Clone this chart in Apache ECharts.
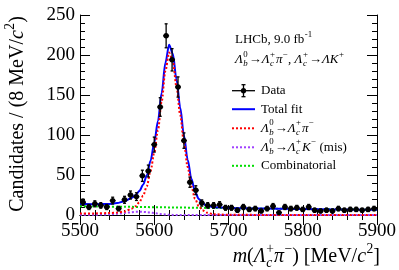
<!DOCTYPE html>
<html><head><meta charset="utf-8">
<script src="https://cdn.jsdelivr.net/npm/echarts@6/dist/echarts.min.js"></script>
<style>html,body{margin:0;padding:0;background:#fff}#c{width:399px;height:270px}</style>
</head><body><div id="c"></div>
<script>
// ---- data ----
const binCenters = [5504,5512,5520,5528,5536,5544,5552,5560,5568,5576,5584,5592,5600,5608,5616,5624,5632,5640,5648,5656,
  5664,5672,5680,5688,5696,5704,5712,5720,5728,5736,5744,5752,5760,5768,5776,5784,5792,5800,5808,5816,
  5824,5832,5840,5848,5856,5864,5872,5880,5888,5896];
const counts = [16,10,14,12,10,18,8,19,25,23,49,55,88,135,224,194,160,93,41,31,
  15,12,12,13,9,9,6,10,7,8,5,8,11,3,10,8,9,7,10,6,
  5,6,5,8,6,7,7,6,7,8];
const curveX = [5500,5520,5540,5550,5560,5570,5575,5580,5585,5590,5595,5600,5605,5610,5615,5620,5625,5630,5635,5640,
  5645,5650,5655,5660,5665,5670,5680,5700,5750,5800,5850,5900];
const totalFit = [14,13.5,13.8,14.9,17.3,21.7,25,30,37.9,49.4,67.8,90.2,117.4,152.7,190.2,212.8,201.7,169.4,134.3,99.3,
  69.2,45.2,29.1,20,15,11.9,9.8,8.9,8.1,7.5,7.0,6.5];
const signalFit = [2,2,2.5,3,4.5,8,11,16,24,36,55,78,106,142,180,203,192,160,125,90,
  60,36,20,11,6,3,1,0.3,0.1,0,0,0];
const misidFit = [0.3,0.4,0.8,1.5,2.5,3.5,3.9,4,3.9,3.5,3,2.4,1.7,1.1,0.6,0.3,0.15,0,0,0,
  0,0,0,0,0,0,0,0,0,0,0,0];
const combFit = [11,10.8,10.5,10.4,10.3,10.2,10.1,10,10,9.9,9.8,9.8,9.7,9.6,9.6,9.5,9.5,9.4,9.3,9.3,
  9.2,9.2,9.1,9.0,9.0,8.9,8.8,8.6,8.0,7.5,7.0,6.5];
const xTicks = {min:5500, max:5900, step:100};
const yTicks = {min:0, max:250, step:50};

// ---- helpers for math-like text ----
const FONT = '"Liberation Serif", "Times New Roman", serif';
const mctx = document.createElement('canvas').getContext('2d');
function fstr(size, it){ return (it ? 'italic ' : '') + size + 'px ' + FONT; }
function tw(s, size, it){ mctx.font = fstr(size, it); return mctx.measureText(s).width; }
function mathText(tokens, size){
  const kids = []; let x = 0; const sm = size * 0.68;
  for (const tk of tokens){
    if (tk.t){
      kids.push({type:'text', x:x, y:0, style:{text:tk.t, font:fstr(size, tk.it), fill:'#000', align:'left', verticalAlign:'middle'}});
      x += tw(tk.t, size, tk.it);
    }
    let w = 0;
    if (tk.sub){
      kids.push({type:'text', x:x+0.5, y:size*0.33, style:{text:tk.sub, font:fstr(sm, tk.subIt), fill:'#000', align:'left', verticalAlign:'middle'}});
      w = Math.max(w, tw(tk.sub, sm, tk.subIt) + 0.5);
    }
    if (tk.sup){
      kids.push({type:'text', x:x+0.5, y:-size*0.40, style:{text:tk.sup, font:fstr(sm, false), fill:'#000', align:'left', verticalAlign:'middle'}});
      w = Math.max(w, tw(tk.sup, sm, false) + 0.5);
    }
    x += w + (tk.pad || 0);
  }
  return {children:kids, width:x};
}
function group(tokens, size, x, y, opts){
  const m = mathText(tokens, size);
  const g = {type:'group', children:m.children};
  opts = opts || {};
  if (opts.rotate){ g.rotation = Math.PI/2; g.x = x; g.y = y + m.width/2; }
  else if (opts.right){ g.x = x - m.width; g.y = y; }
  else { g.x = x; g.y = y; }
  return g;
}

const LS = 13;
const LbPi = [{t:'Λ', it:true, sub:'b', subIt:true, sup:'0', pad:1},{t:'→'},{t:'Λ', it:true, sub:'c', subIt:true, sup:'+', pad:1},{t:'π', it:true, sup:'−'}];
const LbK = [{t:'Λ', it:true, sub:'b', subIt:true, sup:'0', pad:1},{t:'→'},{t:'Λ', it:true, sub:'c', subIt:true, sup:'+', pad:1},{t:'K', it:true, sup:'−'},{t:' (mis)'}];
const header = LbPi.concat([{t:', '},{t:'Λ', it:true, sub:'c', subIt:true, sup:'+', pad:1},{t:'→'},{t:'Λ', it:true},{t:'K', it:true, sup:'+'}]);
const lhcb = [{t:'LHCb, 9.0 fb', sup:'-1'}];
const xTitle = [{t:'m', it:true},{t:'('},{t:'Λ', it:true, sub:'c', subIt:true, sup:'+'},{t:'π', it:true, sup:'−'},{t:') [MeV/'},{t:'c', it:true, sup:'2'},{t:']'}];
const yTitle = [{t:'Candidates / (8 MeV/'},{t:'c', it:true, sup:'2'},{t:')'}];

const legX0 = 232, legX1 = 255, legT = 261;
const rows = [90.7, 109.2, 128.3, 147.3, 165.8];
const graphics = [
  group(lhcb, LS, 235, 40),
  group(header, LS, 235, 59.5),
  {type:'line', shape:{x1:legX0, y1:rows[0], x2:legX1, y2:rows[0]}, style:{stroke:'#000', lineWidth:1.3}},
  {type:'line', shape:{x1:243.5, y1:rows[0]-6, x2:243.5, y2:rows[0]+6}, style:{stroke:'#000', lineWidth:1.3}},
  {type:'line', shape:{x1:241.5, y1:rows[0]-6, x2:245.5, y2:rows[0]-6}, style:{stroke:'#000', lineWidth:1.3}},
  {type:'line', shape:{x1:241.5, y1:rows[0]+6, x2:245.5, y2:rows[0]+6}, style:{stroke:'#000', lineWidth:1.3}},
  {type:'circle', shape:{cx:243.5, cy:rows[0], r:2.6}, style:{fill:'#000'}},
  group([{t:'Data'}], LS, legT, rows[0]),
  {type:'line', shape:{x1:legX0, y1:rows[1], x2:legX1, y2:rows[1]}, style:{stroke:'#0000ff', lineWidth:2}},
  group([{t:'Total fit'}], LS, legT, rows[1]),
  {type:'line', shape:{x1:legX0, y1:rows[2], x2:legX1, y2:rows[2]}, style:{stroke:'#ff0000', lineWidth:2, lineDash:[2,2]}},
  group(LbPi, LS, legT, rows[2]),
  {type:'line', shape:{x1:legX0, y1:rows[3], x2:legX1, y2:rows[3]}, style:{stroke:'#a040ff', lineWidth:2, lineDash:[2,2]}},
  group(LbK, LS, legT, rows[3]),
  {type:'line', shape:{x1:legX0, y1:rows[4], x2:legX1, y2:rows[4]}, style:{stroke:'#00dd00', lineWidth:2, lineDash:[2,2]}},
  group([{t:'Combinatorial'}], LS, legT, rows[4]),
  group(xTitle, 20, 380, 257, {right:true}),
  group(yTitle, 20, 18, 114, {rotate:true})
];

function pairs(xs, ys){ return xs.map((x,i)=>[x, ys[i]]); }
const dataPts = binCenters.map((x,i)=>[x, counts[i], Math.sqrt(counts[i])]);

const axisCommon = {
  type:'value', splitLine:{show:false},
  axisLine:{show:true, lineStyle:{color:'#000', width:1}},
  axisTick:{show:true, inside:true, length:10, lineStyle:{color:'#000', width:1}},
  minorTick:{show:true, splitNumber:5, length:5, lineStyle:{color:'#000', width:1}},
  minorSplitLine:{show:false}
};
const xBase = Object.assign({}, axisCommon, {min:xTicks.min, max:xTicks.max, interval:xTicks.step});
const yBase = Object.assign({}, axisCommon, {min:yTicks.min, max:yTicks.max, interval:yTicks.step});
const plain = v => String(v);

const chart = echarts.init(document.getElementById('c'), null, {renderer:'canvas'});
chart.setOption({
  animation:false,
  backgroundColor:'#fff',
  grid:{left:80, right:19, top:15, bottom:55, containLabel:false},
  xAxis:[
    Object.assign({}, xBase, {position:'bottom', axisLabel:{color:'#000', fontFamily:FONT, fontSize:19, margin:7, formatter:plain}}),
    Object.assign({}, xBase, {position:'top', axisLabel:{show:false}})
  ],
  yAxis:[
    Object.assign({}, yBase, {position:'left', axisLabel:{color:'#000', fontFamily:FONT, fontSize:19, margin:5, formatter:plain}}),
    Object.assign({}, yBase, {position:'right', axisLabel:{show:false}})
  ],
  series:[
    {type:'line', data:pairs(curveX, misidFit), showSymbol:false, smooth:0.3, lineStyle:{color:'#a040ff', width:2, type:[2,2]}, z:1},
    {type:'line', data:pairs(curveX, combFit), showSymbol:false, smooth:0.3, lineStyle:{color:'#00dd00', width:2, type:[2,2]}, z:3},
    {type:'line', data:pairs(curveX, totalFit), showSymbol:false, smooth:0.3, smoothMonotone:'x', lineStyle:{color:'#0000ff', width:2}, z:4},
    {type:'line', data:pairs(curveX, signalFit), showSymbol:false, smooth:0.3, smoothMonotone:'x', lineStyle:{color:'#ff0000', width:2, type:[2,2]}, z:5},
    {type:'custom', data:dataPts, z:10,
      renderItem:function(params, api){
        const x = api.value(0), y = api.value(1), e = api.value(2);
        const c = api.coord([x, y]);
        const t = api.coord([x, y + e]), b = api.coord([x, Math.max(0, y - e)]);
        const l = api.coord([x - 4, y]), r = api.coord([x + 4, y]);
        const st = {stroke:'#000', lineWidth:1.3};
        return {type:'group', children:[
          {type:'line', shape:{x1:t[0], y1:t[1], x2:b[0], y2:b[1]}, style:st},
          {type:'line', shape:{x1:t[0]-1.5, y1:t[1], x2:t[0]+1.5, y2:t[1]}, style:st},
          {type:'line', shape:{x1:b[0]-1.5, y1:b[1], x2:b[0]+1.5, y2:b[1]}, style:st},
          {type:'line', shape:{x1:l[0], y1:l[1], x2:r[0], y2:r[1]}, style:st},
          {type:'circle', shape:{cx:c[0], cy:c[1], r:2.7}, style:{fill:'#000'}}
        ]};
      }
    }
  ],
  graphic:graphics
});
</script></body></html>
